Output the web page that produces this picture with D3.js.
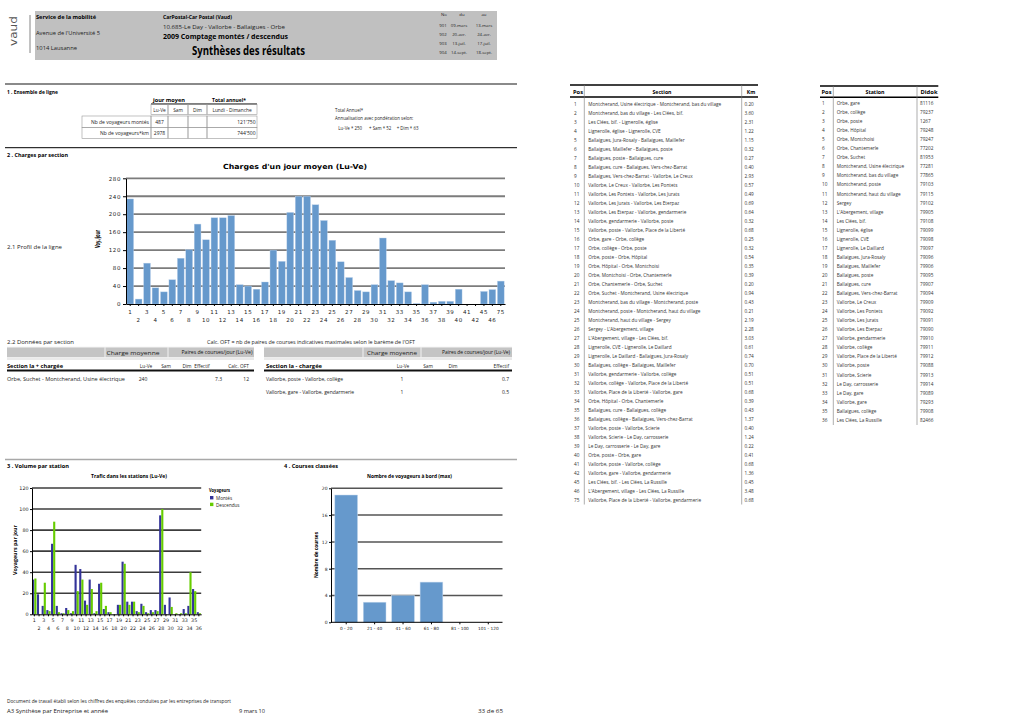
<!DOCTYPE html>
<html><head><meta charset="utf-8">
<script src="https://cdn.jsdelivr.net/npm/d3@7"></script>
<style>body{margin:0;background:#fff}svg{display:block}</style>
</head><body><svg id="c" width="1020" height="721"></svg>
<script>
// ---------------- DATA ----------------
const sectionPos = [1,2,3,4,5,6,7,8,9,10,11,12,13,14,15,16,17,18,19,20,21,22,23,24,25,26,27,28,29,30,31,32,33,34,35,36,37,38,39,40,41,42,45,46,75];
const sectionNames = [
"Montcherand, Usine électrique - Montcherand, bas du village",
"Montcherand, bas du village - Les Clées, bif.",
"Les Clées, bif. - Lignerolle, église",
"Lignerolle, église - Lignerolle, CVE",
"Ballaigues, Jura-Rosaly - Ballaigues, Maillefer",
"Ballaigues, Maillefer - Ballaigues, poste",
"Ballaigues, poste - Ballaigues, cure",
"Ballaigues, cure - Ballaigues, Vers-chez-Barrat",
"Ballaigues, Vers-chez-Barrat - Vallorbe, Le Creux",
"Vallorbe, Le Creux - Vallorbe, Les Pontets",
"Vallorbe, Les Pontets - Vallorbe, Les Jurats",
"Vallorbe, Les Jurats - Vallorbe, Les Eterpaz",
"Vallorbe, Les Eterpaz - Vallorbe, gendarmerie",
"Vallorbe, gendarmerie - Vallorbe, poste",
"Vallorbe, poste - Vallorbe, Place de la Liberté",
"Orbe, gare - Orbe, collège",
"Orbe, collège - Orbe, poste",
"Orbe, poste - Orbe, Hôpital",
"Orbe, Hôpital - Orbe, Montchoisi",
"Orbe, Montchoisi - Orbe, Chantemerle",
"Orbe, Chantemerle - Orbe, Suchet",
"Orbe, Suchet - Montcherand, Usine électrique",
"Montcherand, bas du village - Montcherand, poste",
"Montcherand, poste - Montcherand, haut du village",
"Montcherand, haut du village - Sergey",
"Sergey - L'Abergement, village",
"L'Abergement, village - Les Clées, bif.",
"Lignerolle, CVE - Lignerolle, Le Daillard",
"Lignerolle, Le Daillard - Ballaigues, Jura-Rosaly",
"Ballaigues, collège - Ballaigues, Maillefer",
"Vallorbe, gendarmerie - Vallorbe, collège",
"Vallorbe, collège - Vallorbe, Place de la Liberté",
"Vallorbe, Place de la Liberté - Vallorbe, gare",
"Orbe, Hôpital - Orbe, Chantemerle",
"Ballaigues, cure - Ballaigues, collège",
"Ballaigues, collège - Ballaigues, Vers-chez-Barrat",
"Vallorbe, poste - Vallorbe, Scierie",
"Vallorbe, Scierie - Le Day, carrosserie",
"Le Day, carrosserie - Le Day, gare",
"Orbe, poste - Orbe, gare",
"Vallorbe, poste - Vallorbe, collège",
"Vallorbe, gare - Vallorbe, gendarmerie",
"Les Clées, bif. - Les Clées, La Russille",
"L'Abergement, village - Les Clées, La Russille",
"Vallorbe, Place de la Liberté - Vallorbe, gendarmerie"];
const sectionKm = ["0.20","3.60","2.31","1.22","1.15","0.32","0.27","0.40","2.93","0.57","0.49","0.69","0.64","0.32","0.68","0.25","0.32","0.54","0.35","0.39","0.20","0.94","0.43","0.21","2.19","2.28","3.03","0.61","0.74","0.70","0.51","0.51","0.68","0.39","0.43","1.37","0.40","1.24","0.22","0.41","0.68","1.36","0.45","3.48","0.68"];
const chargeLuVe = [234,11,91,36,27,54,102,121,178,143,192,192,197,43,40,33,49,120,95,204,240,240,221,186,142,94,59,30,27,43,147,52,47,27,1,43,4,6,6,33,0,0,28,32,51];
const chargeTicks = [0,40,80,120,160,200,240,280];

const stationPos = [1,2,3,4,5,6,7,8,9,10,11,12,13,14,15,16,17,18,19,20,21,22,23,24,25,26,27,28,29,30,31,32,33,34,35,36];
const stationNames = ["Orbe, gare","Orbe, collège","Orbe, poste","Orbe, Hôpital","Orbe, Montchoisi","Orbe, Chantemerle","Orbe, Suchet","Montcherand, Usine électrique","Montcherand, bas du village","Montcherand, poste","Montcherand, haut du village","Sergey","L'Abergement, village","Les Clées, bif.","Lignerolle, église","Lignerolle, CVE","Lignerolle, Le Daillard","Ballaigues, Jura-Rosaly","Ballaigues, Maillefer","Ballaigues, poste","Ballaigues, cure","Ballaigues, Vers-chez-Barrat","Vallorbe, Le Creux","Vallorbe, Les Pontets","Vallorbe, Les Jurats","Vallorbe, Les Eterpaz","Vallorbe, gendarmerie","Vallorbe, collège","Vallorbe, Place de la Liberté","Vallorbe, poste","Vallorbe, Scierie","Le Day, carrosserie","Le Day, gare","Vallorbe, gare","Ballaigues, collège","Les Clées, La Russille"];
const stationDidok = ["81116","79237","1267","79248","79247","77202","81953","77281","77865","79103","79115","79102","79905","79108","79099","79098","79097","79096","79906","79095","79907","79094","79909","79092","79091","79090","79910","79911","79912","79088","79913","79914","79089","79293","79908","82466"];
const montes    = [33,19,8,4,67,8,1,6,1,47,43,13,33,1,29,5,2,0,9,50,12,12,3,10,2,4,4,94,9,16,0,0,5,8,24,2];
const descendus = [34,0,30,3,88,2,1,4,3,22,33,9,24,3,30,8,2,0,9,48,9,12,2,8,1,2,3,100,0,7,1,1,1,40,22,1];
const volumeTicks = [0,20,40,60,80,100,120];

const coursesCats = ["0 - 20","21 - 40","41 - 60","61 - 80","81 - 100","101 - 120"];
const coursesVals = [19,3,4,6,0,0];
const coursesTicks = [0,4,8,12,16,20];

const periodNo = ["901","902","903","904"];
const periodDu = ["09-mars","20-avr.","13-juil.","14-sept."];
const periodAu = ["13-mars","24-avr.","17-juil.","18-sept."];

// ---------------- HELPERS ----------------
const svg = d3.select('#c');
svg.append('rect').attr('width',1020).attr('height',721).attr('fill','#fff');
function T(x,y,s,o={}){
  const e = svg.append('text').attr('x',x).attr('y',y).text(s)
    .attr('font-family', o.f||'Open Sans').attr('font-size', o.s||5)
    .attr('font-weight', o.w||'normal').attr('fill', o.c||'#222')
    .attr('text-anchor', o.a||'start');
  if(o.len) e.attr('textLength',o.len).attr('lengthAdjust','spacingAndGlyphs');
  if(o.ls!=null) e.attr('letter-spacing',o.ls);
  if(o.rot) e.attr('transform',`rotate(${o.rot},${x},${y})`);
  return e;
}
function L(x1,y1,x2,y2,c,w){ svg.append('line').attr('x1',x1).attr('y1',y1).attr('x2',x2).attr('y2',y2).attr('stroke',c||'#000').attr('stroke-width',w||1); }
function R(x,y,w,h,fill,stroke,sw){ svg.append('rect').attr('x',x).attr('y',y).attr('width',w).attr('height',h).attr('fill',fill||'none').attr('stroke',stroke||'none').attr('stroke-width',sw||0.6); }

// ---------------- HEADER ----------------
T(17,46,'vaud',{f:'DejaVu Sans',s:11,c:'#555',rot:-90,len:30});
L(30,15,30,53,'#666',0.8);
R(35,11,462,49,'#c0c0c0');
T(36,18.5,'Service de la mobilité',{s:5.5,w:'bold',c:'#000',len:60});
T(36,34.5,"Avenue de l'Université 5",{s:5.5,len:64});
T(36,49.5,'1014 Lausanne',{s:5.5,len:41});
T(163,18.5,'CarPostal-Car Postal (Vaud)',{s:5.5,w:'bold',c:'#000',len:69});
T(163,28.5,'10.685-Le Day - Vallorbe - Ballaigues - Orbe',{s:5.5,len:122});
T(163,38.5,'2009 Comptage montés / descendus',{s:7,w:'bold',c:'#000',len:125});
T(192,55,'Synthèses des résultats',{s:13,w:'bold',c:'#000',len:113});
T(444,16,'No',{s:4.3,a:'middle'});
T(462,16,'du',{s:4.3,a:'middle'});
T(484,16,'au',{s:4.3,a:'middle'});
const prY = d3.scaleBand().domain(periodNo).range([20.5,57.5]);
periodNo.forEach((n,i)=>{
  const y = prY(n)+prY.bandwidth()/2+1.6;
  T(443,y,n,{s:4.3,a:'middle'});
  T(459,y,periodDu[i],{s:4.3,a:'middle'});
  T(484,y,periodAu[i],{s:4.3,a:'middle'});
});

// ---------------- SECTION 1 ----------------
L(5,84,517,84,'#8a8a8a',2);
T(7,93.5,'1 . Ensemble de ligne',{s:5.5,w:'bold',c:'#000',len:51});
T(169,102,'jour moyen',{s:6,w:'bold',c:'#000',a:'middle',len:32});
T(229,102,'Total annuel*',{s:6,w:'bold',c:'#000',a:'middle',len:34});
L(151,104,257,104,'#000',1.2);
[[151,17,'Lu-Ve'],[168,20,'Sam'],[188,19,'Dim'],[207,50,'Lundi - Dimanche']].forEach(c=>{
  R(c[0],104.5,c[1],10,'none','#999',0.6);
  T(c[0]+c[1]/2,111.5,c[2],{s:4.8,a:'middle'});
});
const s1Labels = ['Nb de voyageurs montés','Nb de voyageurs*km'];
const s1LuVe = ['487','2978'];
const s1Total = ["121'750","744'500"];
s1Labels.forEach((lab,i)=>{
  const y0 = 116 + i*11.3;
  R(82,y0,69,11.3,'none','#999',0.6);
  R(151,y0,17,11.3,'none','#999',0.6);
  R(168,y0,20,11.3,'none','#999',0.6);
  R(188,y0,19,11.3,'none','#999',0.6);
  R(207,y0,50,11.3,'none','#999',0.6);
  T(149,y0+8,lab,{s:5,a:'end'});
  T(159.5,y0+8,s1LuVe[i],{s:5,a:'middle'});
  T(255.5,y0+8,s1Total[i],{s:5,a:'end'});
});
T(335,111.8,'Total Annuel*',{s:4.4});
T(335,119.5,'Annualisation avec pondération selon:',{s:4.4});
T(338.3,130,'Lu-Ve * 250',{s:4.4});
T(369,130,'+ Sam * 52',{s:4.4});
T(396.7,130,'+ Dim * 63',{s:4.4});

// ---------------- SECTION 2 ----------------
L(5,147.7,517,147.7,'#000',1);
T(7,156.5,'2 . Charges par section',{s:5.5,w:'bold',c:'#000',len:61});
T(295,169,"Charges d'un jour moyen (Lu-Ve)",{f:'DejaVu Sans',s:7,w:'bold',c:'#000',a:'middle',len:144});
T(7,249,'2.1 Profil de la ligne',{s:5,len:55});
T(100,239,'Voy./jour',{f:'DejaVu Sans',s:7,w:'bold',c:'#000',a:'middle',rot:-90,len:18});

const xC = d3.scaleBand().domain(sectionPos).range([126,505]).paddingInner(0.2).paddingOuter(0.1);
const yC = d3.scaleLinear().domain([0,280]).range([304,178.3]);
const gC = svg.append('g');
gC.selectAll('line.grid').data(chargeTicks.filter(d=>d>0)).join('line').attr('class','grid')
  .attr('x1',126).attr('x2',505).attr('y1',d=>yC(d)).attr('y2',d=>yC(d))
  .attr('stroke','#7c7c7c').attr('stroke-width',1.8);
gC.selectAll('rect.bar').data(chargeLuVe).join('rect').attr('class','bar')
  .attr('x',(d,i)=>xC(sectionPos[i])).attr('y',d=>yC(d))
  .attr('width',xC.bandwidth()).attr('height',d=>yC(0)-yC(d))
  .attr('fill','#6699cc').attr('stroke','#b9d0ea').attr('stroke-width',0.4);
const ayC = gC.append('g').attr('transform','translate(126,0)')
  .call(d3.axisLeft(yC).tickValues(chargeTicks).tickSize(3).tickPadding(2).tickSizeOuter(0));
ayC.attr('font-family','DejaVu Sans').attr('font-size',5.5);
ayC.selectAll('text').attr('letter-spacing',0.6).attr('fill','#222');
const axC = gC.append('g').attr('transform','translate(0,304)')
  .call(d3.axisBottom(xC).tickSize(2).tickSizeOuter(0));
axC.attr('font-family','DejaVu Sans').attr('font-size',5.5);
axC.selectAll('.tick text').attr('dy',0).attr('y',(d,i)=> i%2 ? 17.5 : 10).attr('letter-spacing',0.6).attr('fill','#222');

// ---------------- SECTION 2.2 ----------------
T(7,343.5,'2.2 Données par section',{s:5.5,len:67});
T(207,343.5,"Calc. OFT = nb de paires de courses indicatives maximales selon le barème de l'OFT",{s:4.8,len:208});
// left table
R(7,347.3,247,10,'#c4c4c4');
L(7,347.3,254,347.3,'#e0e0e0',0.8);
L(105,347.3,105,357.3,'#fff',0.8); L(168,347.3,168,357.3,'#fff',0.8);
L(7,359,254,359,'#bbb',0.6);
T(133,354.8,'Charge moyenne',{s:6,a:'middle',c:'#222',len:53});
T(217,354,'Paires de courses/jour (Lu-Ve)',{s:4.6,a:'middle',c:'#111',len:71});
T(7,367.5,'Section la + chargée',{s:5.3,w:'bold',c:'#000',len:56});
T(146,367.5,'Lu-Ve',{s:4.8,a:'middle'});
T(166,367.5,'Sam',{s:4.8,a:'middle'});
T(187,367.5,'Dim',{s:4.8,a:'middle'});
T(202,367.5,'Effectif',{s:4.8,a:'middle'});
T(238.5,367.5,'Calc. OFT',{s:4.8,a:'middle'});
L(7,370.5,254,370.5,'#111',2);
const maxSection = ['Orbe, Suchet - Montcherand, Usine électrique'];
const maxLuVe = ['240']; const maxEff = ['7.3']; const maxOFT = ['12'];
maxSection.forEach((s,i)=>{
  T(7,380.5,s,{s:5,len:118});
  T(143,380.5,maxLuVe[i],{s:5,a:'middle'});
  T(222,380.5,maxEff[i],{s:5,a:'end'});
  T(249,380.5,maxOFT[i],{s:5,a:'end'});
});
// right table
R(264,347.3,248,10,'#c4c4c4');
L(264,347.3,512,347.3,'#e0e0e0',0.8);
L(363,347.3,363,357.3,'#fff',0.8); L(421,347.3,421,357.3,'#fff',0.8);
L(264,359,512,359,'#bbb',0.6);
T(392,354.8,'Charge moyenne',{s:6,a:'middle',c:'#222',len:50});
T(476,354,'Paires de courses/jour (Lu-Ve)',{s:4.6,a:'middle',c:'#111',len:68});
T(266,367.5,'Section la - chargée',{s:5.3,w:'bold',c:'#000',len:56});
T(403,367.5,'Lu-Ve',{s:4.8,a:'middle'});
T(428,367.5,'Sam',{s:4.8,a:'middle'});
T(453,367.5,'Dim',{s:4.8,a:'middle'});
T(509,367.5,'Effectif',{s:4.8,a:'end'});
L(264,370.5,512,370.5,'#111',2);
const minSections = ['Vallorbe, poste - Vallorbe, collège','Vallorbe, gare - Vallorbe, gendarmerie'];
const minLuVe = ['1','1']; const minEff = ['0.7','0.5'];
minSections.forEach((s,i)=>{
  const y = 380.5 + i*13;
  T(266,y,s,{s:5});
  T(402,y,minLuVe[i],{s:5,a:'middle'});
  T(509,y,minEff[i],{s:5,a:'end'});
});

// ---------------- SECTION 3 : VOLUME ----------------
L(5,459.5,517,459.5,'#a8a8a8',1.5);
T(7,467.5,'3 . Volume par station',{s:5.5,w:'bold',c:'#000',len:62});
T(129,478,'Trafic dans les stations (Lu-Ve)',{s:5.3,w:'bold',c:'#000',a:'middle',len:76});
T(17,550,'Voyageurs par jour',{s:5,w:'bold',c:'#000',a:'middle',rot:-90,len:50});
const xV = d3.scaleBand().domain(stationPos).range([32,201.2]).paddingInner(0.1).paddingOuter(0.05);
const xV1 = d3.scaleBand().domain(['m','d']).range([0,xV.bandwidth()]);
const yV = d3.scaleLinear().domain([0,120]).range([614.3,488]);
const gV = svg.append('g');
gV.selectAll('line.grid').data(volumeTicks.filter(d=>d>0)).join('line').attr('class','grid')
  .attr('x1',32).attr('x2',201.2).attr('y1',d=>yV(d)).attr('y2',d=>yV(d))
  .attr('stroke','#3c3c3c').attr('stroke-width',1.6);
gV.selectAll('rect.m').data(montes).join('rect').attr('class','m')
  .attr('x',(d,i)=>xV(stationPos[i])+xV1('m')).attr('y',d=>yV(d))
  .attr('width',xV1.bandwidth()).attr('height',d=>yV(0)-yV(d)).attr('fill','#333399');
gV.selectAll('rect.d').data(descendus).join('rect').attr('class','d')
  .attr('x',(d,i)=>xV(stationPos[i])+xV1('d')).attr('y',d=>yV(d))
  .attr('width',xV1.bandwidth()).attr('height',d=>yV(0)-yV(d)).attr('fill','#66cc00');
const ayV = gV.append('g').attr('transform','translate(32,0)')
  .call(d3.axisLeft(yV).tickValues(volumeTicks).tickSize(2).tickPadding(1.5).tickSizeOuter(0));
ayV.attr('font-family','DejaVu Sans').attr('font-size',4.8);
ayV.selectAll('text').attr('fill','#222');
const axV = gV.append('g').attr('transform','translate(0,614.3)')
  .call(d3.axisBottom(xV).tickSize(2).tickSizeOuter(0));
axV.attr('font-family','DejaVu Sans').attr('font-size',4.8);
axV.selectAll('.tick text').attr('dy',0).attr('y',(d,i)=> i%2 ? 15.7 : 8.2).attr('fill','#222');
// legend
T(209,492,'Voyageurs',{s:5,w:'bold',c:'#000',len:21});
const legKeys = ['Montés','Descendus'];
const legCols = ['#333399','#66cc00'];
legKeys.forEach((k,i)=>{
  R(210,496+i*6.7,3.4,3.4,legCols[i]);
  T(216,499.8+i*6.7,k,{s:4.6});
});

// ---------------- SECTION 4 : COURSES ----------------
T(284,467.5,'4 . Courses classées',{s:5.5,w:'bold',c:'#000',len:54});
T(409.5,478,'Nombre de voyageurs à bord (max)',{s:5.3,w:'bold',c:'#000',a:'middle',len:85});
T(317.5,555,'Nombre de courses',{s:5,w:'bold',c:'#000',a:'middle',rot:-90,len:46});
const xK = d3.scaleBand().domain(coursesCats).range([332,502.5]).paddingInner(0.2).paddingOuter(0.1);
const yK = d3.scaleLinear().domain([0,20]).range([622.3,488.3]);
const gK = svg.append('g');
gK.selectAll('line.grid').data(coursesTicks.filter(d=>d>0)).join('line').attr('class','grid')
  .attr('x1',331).attr('x2',502.5).attr('y1',d=>yK(d)).attr('y2',d=>yK(d))
  .attr('stroke','#555').attr('stroke-width',1.5);
gK.selectAll('rect.bar').data(coursesVals).join('rect').attr('class','bar')
  .attr('x',(d,i)=>xK(coursesCats[i])).attr('y',d=>yK(d))
  .attr('width',xK.bandwidth()).attr('height',d=>yK(0)-yK(d))
  .attr('fill','#6699cc').attr('stroke','#c6d9ee').attr('stroke-width',0.5);
const ayK = gK.append('g').attr('transform','translate(331,0)')
  .call(d3.axisLeft(yK).tickValues(coursesTicks).tickSize(2).tickPadding(1.5).tickSizeOuter(0));
ayK.attr('font-family','DejaVu Sans').attr('font-size',4.5);
ayK.selectAll('text').attr('fill','#222');
const axK = gK.append('g').attr('transform','translate(0,622.3)')
  .call(d3.axisBottom(xK).tickSize(2).tickSizeOuter(0));
axK.select('.domain').attr('d','M331,0H502.5');
axK.attr('font-family','DejaVu Sans').attr('font-size',4.3);
axK.selectAll('.tick text').attr('dy',0).attr('y',8.2).attr('fill','#222');

// ---------------- SECTION TABLE (right) ----------------
L(570,85,758,85,'#000',1.5);
L(570,97,758,97,'#000',1.5);
L(584.3,85,584.3,504.5,'#777',0.6);
L(741.7,85,741.7,504.5,'#777',0.6);
T(578,93.8,'Pos',{s:5.5,w:'bold',c:'#000',a:'middle',len:10});
T(662,93.8,'Section',{s:5.5,w:'bold',c:'#000',a:'middle',len:19});
T(751,93.8,'Km',{s:5.5,w:'bold',c:'#000',a:'middle',len:8.5});
const rowS = d3.scaleBand().domain(sectionPos).range([99.5,99.5+45*9]);
sectionPos.forEach((p,i)=>{
  const y = rowS(p)+rowS.bandwidth()/2+1.7;
  T(574,y,String(p),{s:4.7,c:'#333'});
  T(588.3,y,sectionNames[i],{s:4.7,c:'#333'});
  T(744.5,y,sectionKm[i],{s:4.7,c:'#333'});
});

// ---------------- STATION TABLE (far right) ----------------
L(820,86,938.3,86,'#000',1.5);
L(820,97.3,938.3,97.3,'#000',1.5);
L(833.3,86,833.3,425,'#777',0.6);
L(917,86,917,425,'#777',0.6);
T(826.5,94,'Pos',{s:5.5,w:'bold',c:'#000',a:'middle',len:10});
T(875,94,'Station',{s:5.5,w:'bold',c:'#000',a:'middle',len:19});
T(929,94,'Didok',{s:5.5,w:'bold',c:'#000',a:'middle',len:17});
const rowT = d3.scaleBand().domain(stationPos).range([98.8,98.8+36*9.05]);
stationPos.forEach((p,i)=>{
  const y = rowT(p)+rowT.bandwidth()/2+1.7;
  T(822,y,String(p),{s:4.7,c:'#333'});
  T(836.7,y,stationNames[i],{s:4.7,c:'#333'});
  T(920,y,stationDidok[i],{s:4.7,c:'#333'});
});

// ---------------- FOOTER ----------------
T(7,703,'Document de travail établi selon les chiffres des enquêtes conduites par les entreprises de transport',{s:4.4,len:224});
T(7,712.5,'A3 Synthèse par Entreprise et année',{s:5.5,len:101});
T(239,712.5,'9 mars 10',{s:5.5,len:26});
T(478,712.5,'33 de 65',{s:5.5,len:25});
</script></body></html>
